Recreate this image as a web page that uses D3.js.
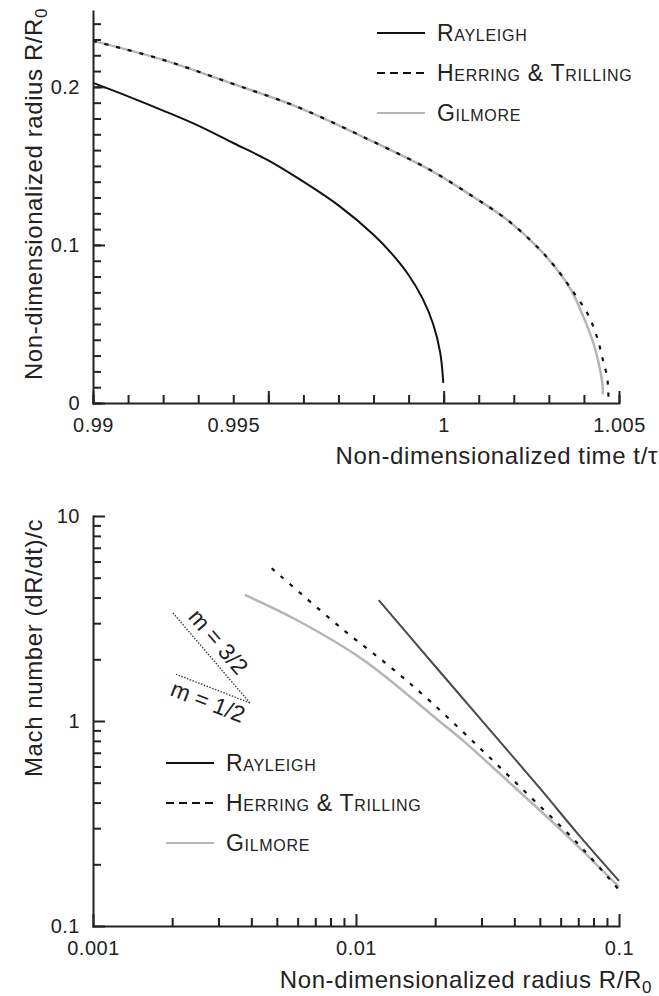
<!DOCTYPE html>
<html>
<head>
<meta charset="utf-8">
<script src="https://cdn.jsdelivr.net/npm/d3@7"></script>
<style>
  body { margin: 0; background: #fff; }
  svg { display: block; background: #fff; font-family: "Liberation Sans", Arial, sans-serif; }
  .axis path, .axis line { stroke: #222; stroke-width: 2; }
  .axis path { stroke-linecap: square; }
  .axis text { font-size: 20px; fill: #222; letter-spacing: 0.5px; font-family: "Liberation Sans", Arial, sans-serif; }
  .title { font-size: 24px; fill: #222; letter-spacing: 0.6px; }
  .legend text { font-size: 23px; font-variant: small-caps; fill: #222; letter-spacing: 0.7px; }
  .slope text { font-size: 23px; fill: #222; }
</style>
</head>
<body>
<svg id="svg" width="659" height="996"></svg>
<script>
// ---------------- data ----------------
// top panel: radius R/R0 against time t/tau
var rayTime   = [0.990, 0.991, 0.992, 0.993, 0.994, 0.995, 0.996, 0.997, 0.998, 0.9985, 0.999, 0.9994, 0.9997, 0.9999, 0.99999];
var rayRadius = [0.2025, 0.194, 0.185, 0.1755, 0.1645, 0.1535, 0.140, 0.125, 0.1065, 0.095, 0.081, 0.066, 0.050, 0.032, 0.0127];

var htTime   = [0.990, 0.992, 0.99391, 0.99582, 0.9977, 0.99961, 1.00084, 1.00181, 1.00275, 1.00331, 1.00369, 1.00409, 1.00437, 1.00454, 1.00466, 1.00469, 1.0047];
var htRadius = [0.2291, 0.2171, 0.2025, 0.1874, 0.1684, 0.1475, 0.1305, 0.1159, 0.0969, 0.0824, 0.0704, 0.0571, 0.0419, 0.0274, 0.0166, 0.0084, 0.004];

var gilTime   = [0.990, 0.992, 0.99391, 0.99582, 0.9977, 0.99961, 1.00084, 1.00181, 1.00275, 1.0033, 1.00366, 1.00398, 1.00427, 1.00446, 1.00453, 1.00454];
var gilRadius = [0.2291, 0.2171, 0.2025, 0.1874, 0.1684, 0.1475, 0.1305, 0.1159, 0.0969, 0.0824, 0.0704, 0.0548, 0.0379, 0.0211, 0.0116, 0.0053];

// bottom panel: Mach number against radius (log-log)
var rayR    = [0.0122, 0.02, 0.03, 0.05, 0.07, 0.1];
var rayMach = [3.89, 1.85, 1.01, 0.47, 0.28, 0.166];

var htR    = [0.00478, 0.00882, 0.01347, 0.01912, 0.0305, 0.0459, 0.069, 0.1];
var htMach = [5.56, 2.83, 1.84, 1.25, 0.71, 0.428, 0.256, 0.150];

var gilR    = [0.00378, 0.00595, 0.01067, 0.02087, 0.0256, 0.0396, 0.0614, 0.1];
var gilMach = [4.12, 3.11, 1.985, 0.992, 0.80, 0.482, 0.287, 0.155];

// slope guides (m = 3/2 and m = 1/2), sharing one corner
var slopeNames = ["m = 3/2", "m = 1/2"];
var slopeR     = [[0.00395, 0.002], [0.00395, 0.00207]];
var slopeMach  = [[1.225, 3.40], [1.225, 1.69]];

// ticks
var topXMajor = [0.99, 0.995, 1, 1.005];
var topXLabels = ["0.99", "0.995", "1", "1.005"];
var topYMajor = [0, 0.1, 0.2];
var topYLabels = ["0", "0.1", "0.2"];
var botXMajor = [0.001, 0.01, 0.1];
var botXLabels = ["0.001", "0.01", "0.1"];
var botYMajor = [0.1, 1, 10];
var botYLabels = ["0.1", "1", "10"];

var legendNames = ["Rayleigh", "Herring & Trilling", "Gilmore"];

// ---------------- drawing ----------------
var svg = d3.select("#svg");

var zip = function(a, b) { return a.map(function(v, i) { return [v, b[i]]; }); };

var logMinors = function(decades) {
  var out = [];
  decades.forEach(function(d) {
    for (var k = 2; k <= 9; k++) out.push(k * d);
  });
  return out;
};

var drawAxes = function(g, xs, ys, xMajor, xLabels, xMinor, yMajor, yLabels, yMinor, xAxisY, yAxisX) {
  // minor ticks first, no labels
  g.append("g").attr("class", "axis").attr("transform", "translate(0," + xAxisY + ")")
    .call(d3.axisBottom(xs).tickValues(xMinor).tickSize(-8).tickFormat(""))
    .call(function(s) { s.select(".domain").remove(); });
  g.append("g").attr("class", "axis").attr("transform", "translate(" + yAxisX + ",0)")
    .call(d3.axisLeft(ys).tickValues(yMinor).tickSize(-8).tickFormat(""))
    .call(function(s) { s.select(".domain").remove(); });
  // majors with labels
  var xa = g.append("g").attr("class", "axis x-major").attr("transform", "translate(0," + xAxisY + ")")
    .call(d3.axisBottom(xs).tickValues(xMajor).tickSize(-12).tickSizeOuter(0).tickPadding(15)
      .tickFormat(function(d, i) { return xLabels[i]; }));
  g.append("g").attr("class", "axis").attr("transform", "translate(" + yAxisX + ",0)")
    .call(d3.axisLeft(ys).tickValues(yMajor).tickSize(-12).tickSizeOuter(0).tickPadding(13)
      .tickFormat(function(d, i) { return yLabels[i]; }));
  return xa;
};

var drawLegend = function(g, x0, rows, styles) {
  var lg = g.append("g").attr("class", "legend");
  legendNames.forEach(function(name, i) {
    lg.append("line")
      .attr("x1", x0).attr("x2", x0 + 48)
      .attr("y1", rows[i]).attr("y2", rows[i])
      .attr("stroke", styles[i].color).attr("stroke-width", 2)
      .attr("stroke-dasharray", styles[i].legendDash || null);
    lg.append("text").attr("x", x0 + 60).attr("y", rows[i] + 8).text(name);
  });
};

// ===== top panel =====
var xTop = d3.scaleLinear().domain([0.99, 1.005]).range([93, 619]);
var yTop = d3.scaleLinear().domain([0, 0.248]).range([403, 11]);
var topG = svg.append("g");

var topLine = d3.line()
  .x(function(d) { return xTop(d[0]); })
  .y(function(d) { return yTop(d[1]); })
  .curve(d3.curveCatmullRom.alpha(0.5));

topG.append("path").datum(zip(gilTime, gilRadius)).attr("d", topLine)
  .attr("fill", "none").attr("stroke", "#b5b5b5").attr("stroke-width", 2.5);
topG.append("path").datum(zip(htTime, htRadius)).attr("d", topLine)
  .attr("fill", "none").attr("stroke", "#111").attr("stroke-width", 2.2)
  .attr("stroke-dasharray", "4,8");
topG.append("path").datum(zip(rayTime, rayRadius)).attr("d", topLine)
  .attr("fill", "none").attr("stroke", "#111").attr("stroke-width", 2);

var topXMinor = d3.range(0, 16).map(function(i) { return 0.99 + i * 0.001; });
var topYMinor = d3.range(0, 25).map(function(i) { return i * 0.01; });
var topXAxis = drawAxes(topG, xTop, yTop, topXMajor, topXLabels, topXMinor, topYMajor, topYLabels, topYMinor, 403, 93);
// the 0.995 label sits one minor step left of its tick in the original
topXAxis.selectAll(".tick text").filter(function(d) { return d === 0.995; })
  .attr("x", xTop(0.994) - xTop(0.995));

topG.append("text").attr("class", "title").attr("text-anchor", "end")
  .attr("x", 658).attr("y", 464).text("Non-dimensionalized time t/\u03c4");
var tyl = topG.append("text").attr("class", "title").attr("text-anchor", "middle")
  .attr("transform", "translate(42,194) rotate(-90)");
tyl.append("tspan").text("Non-dimensionalized radius R/R");
tyl.append("tspan").attr("dy", 5).style("font-size", "17px").text("0");

drawLegend(topG, 377, [33, 73, 113], [
  { color: "#111" }, { color: "#111", legendDash: "8,5" }, { color: "#b5b5b5" }
]);

// ===== bottom panel =====
var xBot = d3.scaleLog().domain([0.001, 0.1]).range([93, 619]);
var yBot = d3.scaleLog().domain([0.1, 10]).range([926, 516]);
var botG = svg.append("g");

var botLine = d3.line()
  .x(function(d) { return xBot(d[0]); })
  .y(function(d) { return yBot(d[1]); })
  .curve(d3.curveCatmullRom.alpha(0.5));

botG.append("path").datum(zip(gilR, gilMach)).attr("d", botLine)
  .attr("fill", "none").attr("stroke", "#b5b5b5").attr("stroke-width", 2.5);
botG.append("path").datum(zip(htR, htMach)).attr("d", botLine)
  .attr("fill", "none").attr("stroke", "#111").attr("stroke-width", 2.2)
  .attr("stroke-dasharray", "4,8");
botG.append("path").datum(zip(rayR, rayMach)).attr("d", botLine)
  .attr("fill", "none").attr("stroke", "#4a4a4a").attr("stroke-width", 2);

drawAxes(botG, xBot, yBot, botXMajor, botXLabels, logMinors([0.001, 0.01]),
  botYMajor, botYLabels, logMinors([0.1, 1]), 926, 93);

// slope guides
var slopeAlong = [0.44, 0.5], slopeOffset = [-8, 22];
var sg = botG.append("g").attr("class", "slope");
slopeNames.forEach(function(name, i) {
  var p0 = [xBot(slopeR[i][0]), yBot(slopeMach[i][0])];
  var p1 = [xBot(slopeR[i][1]), yBot(slopeMach[i][1])];
  sg.append("line")
    .attr("x1", p0[0]).attr("y1", p0[1]).attr("x2", p1[0]).attr("y2", p1[1])
    .attr("stroke", "#333").attr("stroke-width", 1.3).attr("stroke-dasharray", "1.5,1.5");
  var ang = Math.atan2(p0[1] - p1[1], p0[0] - p1[0]) * 180 / Math.PI;
  var mx = p1[0] + (p0[0] - p1[0]) * slopeAlong[i], my = p1[1] + (p0[1] - p1[1]) * slopeAlong[i];
  sg.append("text").attr("text-anchor", "middle")
    .attr("transform", "translate(" + mx + "," + my + ") rotate(" + ang + ")")
    .attr("dy", slopeOffset[i])
    .text(name);
});

botG.append("text").attr("class", "title").attr("text-anchor", "middle")
  .attr("transform", "translate(42,648) rotate(-90)").text("Mach number (dR/dt)/c");
var bxl = botG.append("text").attr("class", "title").attr("text-anchor", "end")
  .attr("x", 652).attr("y", 988);
bxl.append("tspan").text("Non-dimensionalized radius R/R");
bxl.append("tspan").attr("dy", 5).style("font-size", "17px").text("0");

drawLegend(botG, 166, [763, 803, 843], [
  { color: "#111" }, { color: "#111", legendDash: "8,5" }, { color: "#b5b5b5" }
]);
</script>
</body>
</html>
